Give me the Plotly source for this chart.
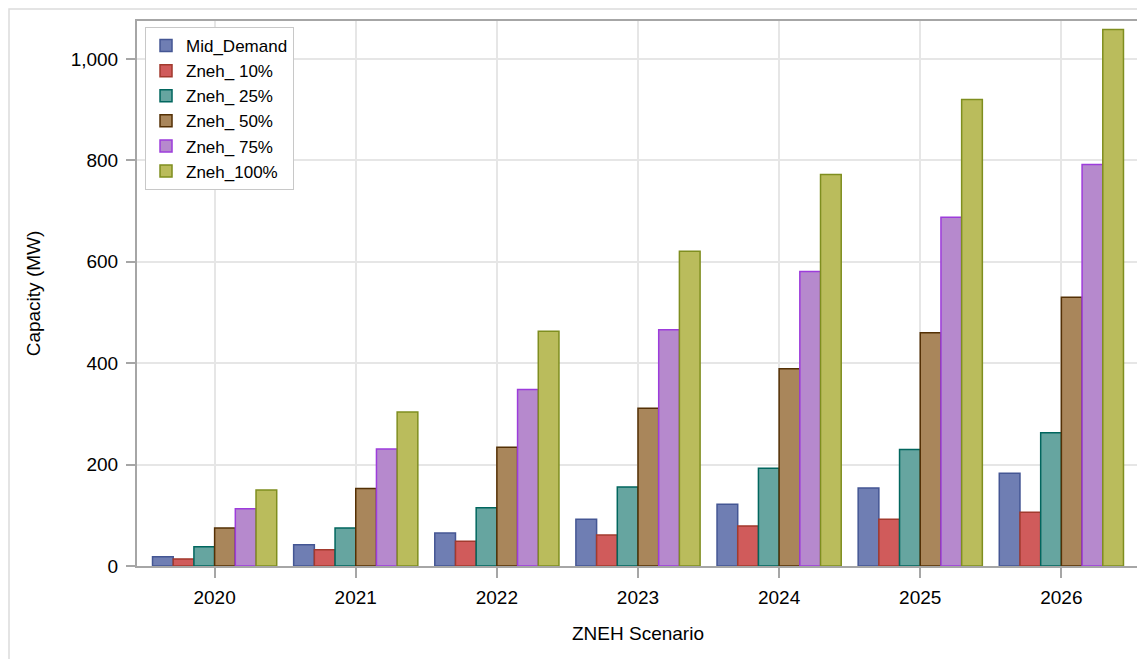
import plotly.graph_objects as go

years = ["2020", "2021", "2022", "2023", "2024", "2025", "2026"]
series_names = ["Mid_Demand", "Zneh_ 10%", "Zneh_ 25%", "Zneh_ 50%", "Zneh_ 75%", "Zneh_100%"]
mid_demand = [18, 42, 65, 92, 122, 154, 183]
zneh_10 = [14, 32, 49, 61, 79, 92, 106]
zneh_25 = [38, 75, 115, 156, 193, 230, 263]
zneh_50 = [75, 153, 234, 311, 389, 460, 530]
zneh_75 = [113, 231, 348, 466, 581, 688, 792]
zneh_100 = [150, 304, 463, 621, 772, 920, 1058]
y_ticks = [0, 200, 400, 600, 800, 1000]

values = [mid_demand, zneh_10, zneh_25, zneh_50, zneh_75, zneh_100]
fills = ["#6F7EB3", "#D05B5B", "#66A5A0", "#A9865B", "#B689CD", "#BABC5C"]
lines = ["#445694", "#A23A2E", "#01665E", "#543005", "#9D3CDB", "#7F8E1F"]

fig = go.Figure()
for name, vals, fc, lc in zip(series_names, values, fills, lines):
    fig.add_trace(go.Bar(
        x=years, y=vals, name=name,
        marker=dict(color=fc, line=dict(color=lc, width=1.5)),
    ))

font_family = "Liberation Sans, Arial, sans-serif"
L, R, T, B = 129, 14, 13, 101
pw = 1145 - L - R
ph = 659 - T - B
fig.update_layout(
    width=1145, height=659,
    barmode="group", bargap=0.12, bargroupgap=0,
    plot_bgcolor="white", paper_bgcolor="white",
    margin=dict(l=L, r=R, t=T, b=B),
    font=dict(family=font_family, color="black", size=18),
    legend=dict(
        x=0.008, y=0.989, xanchor="left", yanchor="top",
        bgcolor="white", bordercolor="#c8c8c8", borderwidth=1,
        font=dict(size=17, family=font_family),
    ),
    xaxis=dict(
        type="category", range=[-0.55, 6.55],
        showgrid=True, gridcolor="#e6e6e6", gridwidth=1.5,
        showline=True, linecolor="#a6a6a6", linewidth=2, mirror=True,
        ticks="outside", ticklen=10, tickcolor="#a6a6a6", tickwidth=2,
        tickfont=dict(size=19), ticklabelstandoff=3,
        title=dict(text="ZNEH Scenario", font=dict(size=19), standoff=20),
    ),
    yaxis=dict(
        range=[0, 1075], tickvals=y_ticks, tickformat=",d",
        showgrid=True, gridcolor="#e6e6e6", gridwidth=1.5, zeroline=False,
        showline=True, linecolor="#a6a6a6", linewidth=2, mirror=True,
        ticks="outside", ticklen=9, tickcolor="#a6a6a6", tickwidth=2,
        tickfont=dict(size=19), ticklabelstandoff=4,
        title=dict(text="Capacity (MW)", font=dict(size=19), standoff=25),
    ),
    shapes=[dict(
        type="rect", xref="paper", yref="paper",
        x0=(1 - L) / pw, x1=1.2, y0=-0.5, y1=1 + (T - 1) / ph,
        line=dict(color="#dcdcdc", width=1.5), fillcolor="rgba(0,0,0,0)", layer="below",
    )],
)

fig.write_html("out.html")
